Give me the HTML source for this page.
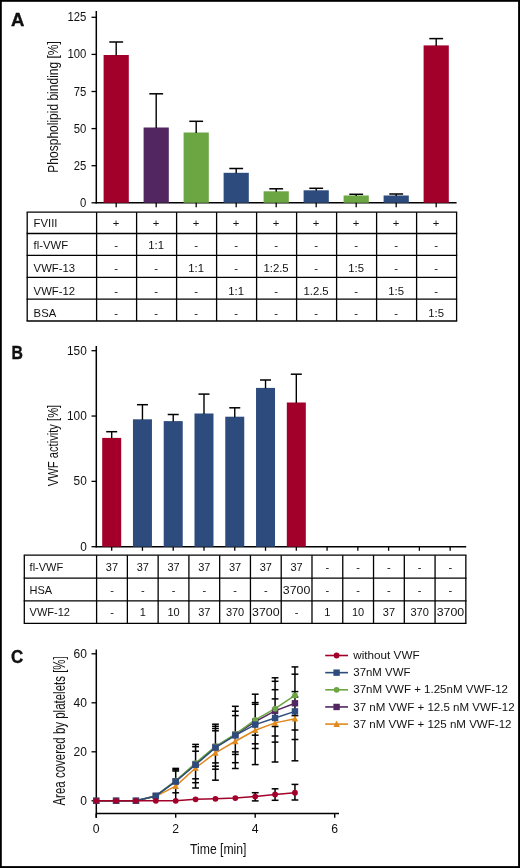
<!DOCTYPE html>
<html><head><meta charset="utf-8"><title>Figure</title>
<style>
html,body{margin:0;padding:0;background:#fff;}
body{width:520px;height:868px;overflow:hidden;}
svg{display:block;will-change:transform;}
svg text{font-family:"Liberation Sans",sans-serif;fill:#111;}
</style></head>
<body>
<svg width="520" height="868" viewBox="0 0 520 868">
<rect x="0" y="0" width="520" height="868" fill="#fff"/>
<text x="11.00" y="25.80" font-size="18.5" text-anchor="start" font-weight="bold" textLength="13.40" lengthAdjust="spacingAndGlyphs" stroke="#000" stroke-width="0.35">A</text>
<line x1="96.30" y1="11.00" x2="96.30" y2="203.50" stroke="#000" stroke-width="1.5" />
<line x1="91.50" y1="202.80" x2="96.30" y2="202.80" stroke="#000" stroke-width="1.3" />
<text x="86.30" y="206.80" font-size="12" text-anchor="end" font-weight="normal" textLength="6.30" lengthAdjust="spacingAndGlyphs" >0</text>
<line x1="91.50" y1="165.70" x2="96.30" y2="165.70" stroke="#000" stroke-width="1.3" />
<text x="86.30" y="169.70" font-size="12" text-anchor="end" font-weight="normal" textLength="12.60" lengthAdjust="spacingAndGlyphs" >25</text>
<line x1="91.50" y1="128.60" x2="96.30" y2="128.60" stroke="#000" stroke-width="1.3" />
<text x="86.30" y="132.60" font-size="12" text-anchor="end" font-weight="normal" textLength="12.60" lengthAdjust="spacingAndGlyphs" >50</text>
<line x1="91.50" y1="91.50" x2="96.30" y2="91.50" stroke="#000" stroke-width="1.3" />
<text x="86.30" y="95.50" font-size="12" text-anchor="end" font-weight="normal" textLength="12.60" lengthAdjust="spacingAndGlyphs" >75</text>
<line x1="91.50" y1="54.40" x2="96.30" y2="54.40" stroke="#000" stroke-width="1.3" />
<text x="86.30" y="58.40" font-size="12" text-anchor="end" font-weight="normal" textLength="18.90" lengthAdjust="spacingAndGlyphs" >100</text>
<line x1="91.50" y1="17.30" x2="96.30" y2="17.30" stroke="#000" stroke-width="1.3" />
<text x="86.30" y="21.30" font-size="12" text-anchor="end" font-weight="normal" textLength="18.90" lengthAdjust="spacingAndGlyphs" >125</text>
<line x1="95.60" y1="202.80" x2="456.60" y2="202.80" stroke="#000" stroke-width="1.5" />
<text x="57.90" y="106.90" font-size="15.5" text-anchor="middle" textLength="131.50" lengthAdjust="spacingAndGlyphs" transform="rotate(-90 57.90 106.90)">Phospholipid binding [%]</text>
<rect x="103.60" y="55.00" width="25.20" height="147.80" fill="#a2002b"/>
<line x1="116.20" y1="42.00" x2="116.20" y2="55.50" stroke="#000" stroke-width="1.4" />
<line x1="109.30" y1="42.00" x2="123.10" y2="42.00" stroke="#000" stroke-width="1.5" />
<line x1="116.20" y1="202.80" x2="116.20" y2="207.20" stroke="#000" stroke-width="1.3" />
<rect x="143.60" y="127.50" width="25.20" height="75.30" fill="#512661"/>
<line x1="156.20" y1="93.80" x2="156.20" y2="128.00" stroke="#000" stroke-width="1.4" />
<line x1="149.30" y1="93.80" x2="163.10" y2="93.80" stroke="#000" stroke-width="1.5" />
<line x1="156.20" y1="202.80" x2="156.20" y2="207.20" stroke="#000" stroke-width="1.3" />
<rect x="183.60" y="132.50" width="25.20" height="70.30" fill="#6ba642"/>
<line x1="196.20" y1="121.30" x2="196.20" y2="133.00" stroke="#000" stroke-width="1.4" />
<line x1="189.30" y1="121.30" x2="203.10" y2="121.30" stroke="#000" stroke-width="1.5" />
<line x1="196.20" y1="202.80" x2="196.20" y2="207.20" stroke="#000" stroke-width="1.3" />
<rect x="223.60" y="172.80" width="25.20" height="30.00" fill="#2d4c7d"/>
<line x1="236.20" y1="168.50" x2="236.20" y2="173.30" stroke="#000" stroke-width="1.4" />
<line x1="229.30" y1="168.50" x2="243.10" y2="168.50" stroke="#000" stroke-width="1.5" />
<line x1="236.20" y1="202.80" x2="236.20" y2="207.20" stroke="#000" stroke-width="1.3" />
<rect x="263.60" y="191.30" width="25.20" height="11.50" fill="#6ba642"/>
<line x1="276.20" y1="188.80" x2="276.20" y2="191.80" stroke="#000" stroke-width="1.4" />
<line x1="269.30" y1="188.80" x2="283.10" y2="188.80" stroke="#000" stroke-width="1.5" />
<line x1="276.20" y1="202.80" x2="276.20" y2="207.20" stroke="#000" stroke-width="1.3" />
<rect x="303.60" y="190.30" width="25.20" height="12.50" fill="#2d4c7d"/>
<line x1="316.20" y1="188.30" x2="316.20" y2="190.80" stroke="#000" stroke-width="1.4" />
<line x1="309.30" y1="188.30" x2="323.10" y2="188.30" stroke="#000" stroke-width="1.5" />
<line x1="316.20" y1="202.80" x2="316.20" y2="207.20" stroke="#000" stroke-width="1.3" />
<rect x="343.60" y="195.50" width="25.20" height="7.30" fill="#6ba642"/>
<line x1="356.20" y1="194.30" x2="356.20" y2="196.00" stroke="#000" stroke-width="1.4" />
<line x1="349.30" y1="194.30" x2="363.10" y2="194.30" stroke="#000" stroke-width="1.5" />
<line x1="356.20" y1="202.80" x2="356.20" y2="207.20" stroke="#000" stroke-width="1.3" />
<rect x="383.60" y="195.50" width="25.20" height="7.30" fill="#2d4c7d"/>
<line x1="396.20" y1="194.00" x2="396.20" y2="196.00" stroke="#000" stroke-width="1.4" />
<line x1="389.30" y1="194.00" x2="403.10" y2="194.00" stroke="#000" stroke-width="1.5" />
<line x1="396.20" y1="202.80" x2="396.20" y2="207.20" stroke="#000" stroke-width="1.3" />
<rect x="423.60" y="45.40" width="25.20" height="157.40" fill="#a2002b"/>
<line x1="436.20" y1="38.60" x2="436.20" y2="45.90" stroke="#000" stroke-width="1.4" />
<line x1="429.30" y1="38.60" x2="443.10" y2="38.60" stroke="#000" stroke-width="1.5" />
<line x1="436.20" y1="202.80" x2="436.20" y2="207.20" stroke="#000" stroke-width="1.3" />
<line x1="26.60" y1="212.20" x2="457.20" y2="212.20" stroke="#000" stroke-width="1.3" />
<line x1="26.60" y1="233.50" x2="457.20" y2="233.50" stroke="#000" stroke-width="1.3" />
<line x1="26.60" y1="255.40" x2="457.20" y2="255.40" stroke="#000" stroke-width="1.3" />
<line x1="26.60" y1="277.30" x2="457.20" y2="277.30" stroke="#000" stroke-width="1.3" />
<line x1="26.60" y1="299.20" x2="457.20" y2="299.20" stroke="#000" stroke-width="1.3" />
<line x1="26.60" y1="321.00" x2="457.20" y2="321.00" stroke="#000" stroke-width="1.3" />
<line x1="27.20" y1="212.20" x2="27.20" y2="321.00" stroke="#000" stroke-width="1.3" />
<line x1="96.60" y1="212.20" x2="96.60" y2="321.00" stroke="#000" stroke-width="1.3" />
<line x1="136.60" y1="212.20" x2="136.60" y2="321.00" stroke="#000" stroke-width="1.3" />
<line x1="176.60" y1="212.20" x2="176.60" y2="321.00" stroke="#000" stroke-width="1.3" />
<line x1="216.60" y1="212.20" x2="216.60" y2="321.00" stroke="#000" stroke-width="1.3" />
<line x1="256.60" y1="212.20" x2="256.60" y2="321.00" stroke="#000" stroke-width="1.3" />
<line x1="296.60" y1="212.20" x2="296.60" y2="321.00" stroke="#000" stroke-width="1.3" />
<line x1="336.60" y1="212.20" x2="336.60" y2="321.00" stroke="#000" stroke-width="1.3" />
<line x1="376.60" y1="212.20" x2="376.60" y2="321.00" stroke="#000" stroke-width="1.3" />
<line x1="416.60" y1="212.20" x2="416.60" y2="321.00" stroke="#000" stroke-width="1.3" />
<line x1="456.60" y1="212.20" x2="456.60" y2="321.00" stroke="#000" stroke-width="1.3" />
<text x="33.60" y="227.30" font-size="11.3" text-anchor="start" font-weight="normal" >FVIII</text>
<text x="116.10" y="227.30" font-size="11.3" text-anchor="middle" font-weight="normal" >+</text>
<text x="156.10" y="227.30" font-size="11.3" text-anchor="middle" font-weight="normal" >+</text>
<text x="196.10" y="227.30" font-size="11.3" text-anchor="middle" font-weight="normal" >+</text>
<text x="236.10" y="227.30" font-size="11.3" text-anchor="middle" font-weight="normal" >+</text>
<text x="276.10" y="227.30" font-size="11.3" text-anchor="middle" font-weight="normal" >+</text>
<text x="316.10" y="227.30" font-size="11.3" text-anchor="middle" font-weight="normal" >+</text>
<text x="356.10" y="227.30" font-size="11.3" text-anchor="middle" font-weight="normal" >+</text>
<text x="396.10" y="227.30" font-size="11.3" text-anchor="middle" font-weight="normal" >+</text>
<text x="436.10" y="227.30" font-size="11.3" text-anchor="middle" font-weight="normal" >+</text>
<text x="33.60" y="249.30" font-size="11.3" text-anchor="start" font-weight="normal" >fl-VWF</text>
<text x="116.10" y="249.30" font-size="11.3" text-anchor="middle" font-weight="normal" >-</text>
<text x="156.10" y="249.30" font-size="11.3" text-anchor="middle" font-weight="normal" >1:1</text>
<text x="196.10" y="249.30" font-size="11.3" text-anchor="middle" font-weight="normal" >-</text>
<text x="236.10" y="249.30" font-size="11.3" text-anchor="middle" font-weight="normal" >-</text>
<text x="276.10" y="249.30" font-size="11.3" text-anchor="middle" font-weight="normal" >-</text>
<text x="316.10" y="249.30" font-size="11.3" text-anchor="middle" font-weight="normal" >-</text>
<text x="356.10" y="249.30" font-size="11.3" text-anchor="middle" font-weight="normal" >-</text>
<text x="396.10" y="249.30" font-size="11.3" text-anchor="middle" font-weight="normal" >-</text>
<text x="436.10" y="249.30" font-size="11.3" text-anchor="middle" font-weight="normal" >-</text>
<text x="33.60" y="272.00" font-size="11.3" text-anchor="start" font-weight="normal" >VWF-13</text>
<text x="116.10" y="272.00" font-size="11.3" text-anchor="middle" font-weight="normal" >-</text>
<text x="156.10" y="272.00" font-size="11.3" text-anchor="middle" font-weight="normal" >-</text>
<text x="196.10" y="272.00" font-size="11.3" text-anchor="middle" font-weight="normal" >1:1</text>
<text x="236.10" y="272.00" font-size="11.3" text-anchor="middle" font-weight="normal" >-</text>
<text x="276.10" y="272.00" font-size="11.3" text-anchor="middle" font-weight="normal" >1:2.5</text>
<text x="316.10" y="272.00" font-size="11.3" text-anchor="middle" font-weight="normal" >-</text>
<text x="356.10" y="272.00" font-size="11.3" text-anchor="middle" font-weight="normal" >1:5</text>
<text x="396.10" y="272.00" font-size="11.3" text-anchor="middle" font-weight="normal" >-</text>
<text x="436.10" y="272.00" font-size="11.3" text-anchor="middle" font-weight="normal" >-</text>
<text x="33.60" y="294.80" font-size="11.3" text-anchor="start" font-weight="normal" >VWF-12</text>
<text x="116.10" y="294.80" font-size="11.3" text-anchor="middle" font-weight="normal" >-</text>
<text x="156.10" y="294.80" font-size="11.3" text-anchor="middle" font-weight="normal" >-</text>
<text x="196.10" y="294.80" font-size="11.3" text-anchor="middle" font-weight="normal" >-</text>
<text x="236.10" y="294.80" font-size="11.3" text-anchor="middle" font-weight="normal" >1:1</text>
<text x="276.10" y="294.80" font-size="11.3" text-anchor="middle" font-weight="normal" >-</text>
<text x="316.10" y="294.80" font-size="11.3" text-anchor="middle" font-weight="normal" >1.2.5</text>
<text x="356.10" y="294.80" font-size="11.3" text-anchor="middle" font-weight="normal" >-</text>
<text x="396.10" y="294.80" font-size="11.3" text-anchor="middle" font-weight="normal" >1:5</text>
<text x="436.10" y="294.80" font-size="11.3" text-anchor="middle" font-weight="normal" >-</text>
<text x="33.60" y="317.40" font-size="11.3" text-anchor="start" font-weight="normal" >BSA</text>
<text x="116.10" y="317.40" font-size="11.3" text-anchor="middle" font-weight="normal" >-</text>
<text x="156.10" y="317.40" font-size="11.3" text-anchor="middle" font-weight="normal" >-</text>
<text x="196.10" y="317.40" font-size="11.3" text-anchor="middle" font-weight="normal" >-</text>
<text x="236.10" y="317.40" font-size="11.3" text-anchor="middle" font-weight="normal" >-</text>
<text x="276.10" y="317.40" font-size="11.3" text-anchor="middle" font-weight="normal" >-</text>
<text x="316.10" y="317.40" font-size="11.3" text-anchor="middle" font-weight="normal" >-</text>
<text x="356.10" y="317.40" font-size="11.3" text-anchor="middle" font-weight="normal" >-</text>
<text x="396.10" y="317.40" font-size="11.3" text-anchor="middle" font-weight="normal" >-</text>
<text x="436.10" y="317.40" font-size="11.3" text-anchor="middle" font-weight="normal" >1:5</text>
<text x="11.40" y="359.40" font-size="18" text-anchor="start" font-weight="bold" textLength="11.40" lengthAdjust="spacingAndGlyphs" stroke="#000" stroke-width="0.35">B</text>
<line x1="96.30" y1="346.00" x2="96.30" y2="547.40" stroke="#000" stroke-width="1.5" />
<line x1="91.50" y1="546.70" x2="96.30" y2="546.70" stroke="#000" stroke-width="1.3" />
<text x="86.80" y="550.80" font-size="12.3" text-anchor="end" font-weight="normal" textLength="6.60" lengthAdjust="spacingAndGlyphs" >0</text>
<line x1="91.50" y1="481.37" x2="96.30" y2="481.37" stroke="#000" stroke-width="1.3" />
<text x="86.80" y="485.47" font-size="12.3" text-anchor="end" font-weight="normal" textLength="13.20" lengthAdjust="spacingAndGlyphs" >50</text>
<line x1="91.50" y1="416.04" x2="96.30" y2="416.04" stroke="#000" stroke-width="1.3" />
<text x="86.80" y="420.14" font-size="12.3" text-anchor="end" font-weight="normal" textLength="19.80" lengthAdjust="spacingAndGlyphs" >100</text>
<line x1="91.50" y1="350.71" x2="96.30" y2="350.71" stroke="#000" stroke-width="1.3" />
<text x="86.80" y="354.81" font-size="12.3" text-anchor="end" font-weight="normal" textLength="19.80" lengthAdjust="spacingAndGlyphs" >150</text>
<line x1="95.60" y1="546.70" x2="466.20" y2="546.70" stroke="#000" stroke-width="1.5" />
<text x="58.20" y="445.50" font-size="15.5" text-anchor="middle" textLength="81.50" lengthAdjust="spacingAndGlyphs" transform="rotate(-90 58.20 445.50)">VWF activity [%]</text>
<line x1="111.69" y1="546.70" x2="111.69" y2="550.80" stroke="#000" stroke-width="1.3" />
<line x1="142.45" y1="546.70" x2="142.45" y2="550.80" stroke="#000" stroke-width="1.3" />
<line x1="173.22" y1="546.70" x2="173.22" y2="550.80" stroke="#000" stroke-width="1.3" />
<line x1="203.99" y1="546.70" x2="203.99" y2="550.80" stroke="#000" stroke-width="1.3" />
<line x1="234.76" y1="546.70" x2="234.76" y2="550.80" stroke="#000" stroke-width="1.3" />
<line x1="265.53" y1="546.70" x2="265.53" y2="550.80" stroke="#000" stroke-width="1.3" />
<line x1="296.31" y1="546.70" x2="296.31" y2="550.80" stroke="#000" stroke-width="1.3" />
<line x1="327.07" y1="546.70" x2="327.07" y2="550.80" stroke="#000" stroke-width="1.3" />
<line x1="357.84" y1="546.70" x2="357.84" y2="550.80" stroke="#000" stroke-width="1.3" />
<line x1="388.61" y1="546.70" x2="388.61" y2="550.80" stroke="#000" stroke-width="1.3" />
<line x1="419.38" y1="546.70" x2="419.38" y2="550.80" stroke="#000" stroke-width="1.3" />
<line x1="450.16" y1="546.70" x2="450.16" y2="550.80" stroke="#000" stroke-width="1.3" />
<rect x="102.19" y="437.90" width="19.00" height="108.80" fill="#a2002b"/>
<line x1="111.69" y1="431.70" x2="111.69" y2="438.40" stroke="#000" stroke-width="1.4" />
<line x1="106.19" y1="431.70" x2="117.19" y2="431.70" stroke="#000" stroke-width="1.5" />
<rect x="132.95" y="419.30" width="19.00" height="127.40" fill="#2d4c7d"/>
<line x1="142.45" y1="404.70" x2="142.45" y2="419.80" stroke="#000" stroke-width="1.4" />
<line x1="136.95" y1="404.70" x2="147.95" y2="404.70" stroke="#000" stroke-width="1.5" />
<rect x="163.72" y="421.10" width="19.00" height="125.60" fill="#2d4c7d"/>
<line x1="173.22" y1="414.50" x2="173.22" y2="421.60" stroke="#000" stroke-width="1.4" />
<line x1="167.72" y1="414.50" x2="178.72" y2="414.50" stroke="#000" stroke-width="1.5" />
<rect x="194.49" y="413.50" width="19.00" height="133.20" fill="#2d4c7d"/>
<line x1="203.99" y1="394.10" x2="203.99" y2="414.00" stroke="#000" stroke-width="1.4" />
<line x1="198.49" y1="394.10" x2="209.49" y2="394.10" stroke="#000" stroke-width="1.5" />
<rect x="225.26" y="416.70" width="19.00" height="130.00" fill="#2d4c7d"/>
<line x1="234.76" y1="407.80" x2="234.76" y2="417.20" stroke="#000" stroke-width="1.4" />
<line x1="229.26" y1="407.80" x2="240.26" y2="407.80" stroke="#000" stroke-width="1.5" />
<rect x="256.03" y="387.90" width="19.00" height="158.80" fill="#2d4c7d"/>
<line x1="265.53" y1="380.00" x2="265.53" y2="388.40" stroke="#000" stroke-width="1.4" />
<line x1="260.03" y1="380.00" x2="271.03" y2="380.00" stroke="#000" stroke-width="1.5" />
<rect x="286.81" y="402.50" width="19.00" height="144.20" fill="#a2002b"/>
<line x1="296.31" y1="374.20" x2="296.31" y2="403.00" stroke="#000" stroke-width="1.4" />
<line x1="290.81" y1="374.20" x2="301.81" y2="374.20" stroke="#000" stroke-width="1.5" />
<line x1="23.70" y1="555.20" x2="466.50" y2="555.20" stroke="#000" stroke-width="1.3" />
<line x1="23.70" y1="578.20" x2="466.50" y2="578.20" stroke="#000" stroke-width="1.3" />
<line x1="23.70" y1="600.80" x2="466.50" y2="600.80" stroke="#000" stroke-width="1.3" />
<line x1="23.70" y1="623.30" x2="466.50" y2="623.30" stroke="#000" stroke-width="1.3" />
<line x1="24.30" y1="555.20" x2="24.30" y2="623.30" stroke="#000" stroke-width="1.3" />
<line x1="96.60" y1="555.20" x2="96.60" y2="623.30" stroke="#000" stroke-width="1.3" />
<line x1="127.37" y1="555.20" x2="127.37" y2="623.30" stroke="#000" stroke-width="1.3" />
<line x1="158.14" y1="555.20" x2="158.14" y2="623.30" stroke="#000" stroke-width="1.3" />
<line x1="188.91" y1="555.20" x2="188.91" y2="623.30" stroke="#000" stroke-width="1.3" />
<line x1="219.68" y1="555.20" x2="219.68" y2="623.30" stroke="#000" stroke-width="1.3" />
<line x1="250.45" y1="555.20" x2="250.45" y2="623.30" stroke="#000" stroke-width="1.3" />
<line x1="281.22" y1="555.20" x2="281.22" y2="623.30" stroke="#000" stroke-width="1.3" />
<line x1="311.99" y1="555.20" x2="311.99" y2="623.30" stroke="#000" stroke-width="1.3" />
<line x1="342.76" y1="555.20" x2="342.76" y2="623.30" stroke="#000" stroke-width="1.3" />
<line x1="373.53" y1="555.20" x2="373.53" y2="623.30" stroke="#000" stroke-width="1.3" />
<line x1="404.30" y1="555.20" x2="404.30" y2="623.30" stroke="#000" stroke-width="1.3" />
<line x1="435.07" y1="555.20" x2="435.07" y2="623.30" stroke="#000" stroke-width="1.3" />
<line x1="465.84" y1="555.20" x2="465.84" y2="623.30" stroke="#000" stroke-width="1.3" />
<text x="29.60" y="570.70" font-size="11" text-anchor="start" font-weight="normal" >fl-VWF</text>
<text x="111.98" y="570.70" font-size="11" text-anchor="middle" font-weight="normal" >37</text>
<text x="142.75" y="570.70" font-size="11" text-anchor="middle" font-weight="normal" >37</text>
<text x="173.52" y="570.70" font-size="11" text-anchor="middle" font-weight="normal" >37</text>
<text x="204.29" y="570.70" font-size="11" text-anchor="middle" font-weight="normal" >37</text>
<text x="235.06" y="570.70" font-size="11" text-anchor="middle" font-weight="normal" >37</text>
<text x="265.83" y="570.70" font-size="11" text-anchor="middle" font-weight="normal" >37</text>
<text x="296.61" y="570.70" font-size="11" text-anchor="middle" font-weight="normal" >37</text>
<text x="327.38" y="570.70" font-size="11" text-anchor="middle" font-weight="normal" >-</text>
<text x="358.14" y="570.70" font-size="11" text-anchor="middle" font-weight="normal" >-</text>
<text x="388.91" y="570.70" font-size="11" text-anchor="middle" font-weight="normal" >-</text>
<text x="419.68" y="570.70" font-size="11" text-anchor="middle" font-weight="normal" >-</text>
<text x="450.46" y="570.70" font-size="11" text-anchor="middle" font-weight="normal" >-</text>
<text x="29.60" y="593.70" font-size="11" text-anchor="start" font-weight="normal" >HSA</text>
<text x="111.98" y="593.70" font-size="11" text-anchor="middle" font-weight="normal" >-</text>
<text x="142.75" y="593.70" font-size="11" text-anchor="middle" font-weight="normal" >-</text>
<text x="173.52" y="593.70" font-size="11" text-anchor="middle" font-weight="normal" >-</text>
<text x="204.29" y="593.70" font-size="11" text-anchor="middle" font-weight="normal" >-</text>
<text x="235.06" y="593.70" font-size="11" text-anchor="middle" font-weight="normal" >-</text>
<text x="265.83" y="593.70" font-size="11" text-anchor="middle" font-weight="normal" >-</text>
<text x="296.61" y="593.70" font-size="11" text-anchor="middle" font-weight="normal" textLength="27.50" lengthAdjust="spacingAndGlyphs" >3700</text>
<text x="327.38" y="593.70" font-size="11" text-anchor="middle" font-weight="normal" >-</text>
<text x="358.14" y="593.70" font-size="11" text-anchor="middle" font-weight="normal" >-</text>
<text x="388.91" y="593.70" font-size="11" text-anchor="middle" font-weight="normal" >-</text>
<text x="419.68" y="593.70" font-size="11" text-anchor="middle" font-weight="normal" >-</text>
<text x="450.46" y="593.70" font-size="11" text-anchor="middle" font-weight="normal" >-</text>
<text x="29.60" y="616.30" font-size="11" text-anchor="start" font-weight="normal" >VWF-12</text>
<text x="111.98" y="616.30" font-size="11" text-anchor="middle" font-weight="normal" >-</text>
<text x="142.75" y="616.30" font-size="11" text-anchor="middle" font-weight="normal" >1</text>
<text x="173.52" y="616.30" font-size="11" text-anchor="middle" font-weight="normal" >10</text>
<text x="204.29" y="616.30" font-size="11" text-anchor="middle" font-weight="normal" >37</text>
<text x="235.06" y="616.30" font-size="11" text-anchor="middle" font-weight="normal" >370</text>
<text x="265.83" y="616.30" font-size="11" text-anchor="middle" font-weight="normal" textLength="27.50" lengthAdjust="spacingAndGlyphs" >3700</text>
<text x="296.61" y="616.30" font-size="11" text-anchor="middle" font-weight="normal" >-</text>
<text x="327.38" y="616.30" font-size="11" text-anchor="middle" font-weight="normal" >1</text>
<text x="358.14" y="616.30" font-size="11" text-anchor="middle" font-weight="normal" >10</text>
<text x="388.91" y="616.30" font-size="11" text-anchor="middle" font-weight="normal" >37</text>
<text x="419.68" y="616.30" font-size="11" text-anchor="middle" font-weight="normal" >370</text>
<text x="450.46" y="616.30" font-size="11" text-anchor="middle" font-weight="normal" textLength="27.50" lengthAdjust="spacingAndGlyphs" >3700</text>
<text x="10.90" y="662.50" font-size="19" text-anchor="start" font-weight="bold" textLength="12.20" lengthAdjust="spacingAndGlyphs" stroke="#000" stroke-width="0.35">C</text>
<line x1="96.30" y1="649.50" x2="96.30" y2="817.80" stroke="#000" stroke-width="1.5" />
<line x1="91.50" y1="800.80" x2="96.30" y2="800.80" stroke="#000" stroke-width="1.3" />
<text x="87.00" y="804.80" font-size="12.7" text-anchor="end" font-weight="normal" textLength="6.70" lengthAdjust="spacingAndGlyphs" >0</text>
<line x1="91.50" y1="751.80" x2="96.30" y2="751.80" stroke="#000" stroke-width="1.3" />
<text x="87.00" y="755.80" font-size="12.7" text-anchor="end" font-weight="normal" textLength="13.40" lengthAdjust="spacingAndGlyphs" >20</text>
<line x1="91.50" y1="702.80" x2="96.30" y2="702.80" stroke="#000" stroke-width="1.3" />
<text x="87.00" y="706.80" font-size="12.7" text-anchor="end" font-weight="normal" textLength="13.40" lengthAdjust="spacingAndGlyphs" >40</text>
<line x1="91.50" y1="653.80" x2="96.30" y2="653.80" stroke="#000" stroke-width="1.3" />
<text x="87.00" y="657.80" font-size="12.7" text-anchor="end" font-weight="normal" textLength="13.40" lengthAdjust="spacingAndGlyphs" >60</text>
<line x1="96.30" y1="813.50" x2="339.00" y2="813.50" stroke="#000" stroke-width="1.5" />
<line x1="96.20" y1="813.50" x2="96.20" y2="817.80" stroke="#000" stroke-width="1.4" />
<text x="96.20" y="833.40" font-size="12.8" text-anchor="middle" font-weight="normal" textLength="6.80" lengthAdjust="spacingAndGlyphs" >0</text>
<line x1="175.70" y1="813.50" x2="175.70" y2="817.80" stroke="#000" stroke-width="1.4" />
<text x="175.70" y="833.40" font-size="12.8" text-anchor="middle" font-weight="normal" textLength="6.80" lengthAdjust="spacingAndGlyphs" >2</text>
<line x1="255.20" y1="813.50" x2="255.20" y2="817.80" stroke="#000" stroke-width="1.4" />
<text x="255.20" y="833.40" font-size="12.8" text-anchor="middle" font-weight="normal" textLength="6.80" lengthAdjust="spacingAndGlyphs" >4</text>
<line x1="334.70" y1="813.50" x2="334.70" y2="817.80" stroke="#000" stroke-width="1.4" />
<text x="334.70" y="833.40" font-size="12.8" text-anchor="middle" font-weight="normal" textLength="6.80" lengthAdjust="spacingAndGlyphs" >6</text>
<text x="190.00" y="854.00" font-size="15" text-anchor="start" font-weight="normal" textLength="56.50" lengthAdjust="spacingAndGlyphs" >Time [min]</text>
<text x="65.50" y="730.90" font-size="16.5" text-anchor="middle" textLength="149.30" lengthAdjust="spacingAndGlyphs" transform="rotate(-90 65.50 730.90)">Area covered by platelets [%]</text>
<line x1="175.70" y1="768.40" x2="175.70" y2="799.00" stroke="#000" stroke-width="1.5" />
<line x1="172.30" y1="768.40" x2="179.10" y2="768.40" stroke="#000" stroke-width="1.5" />
<line x1="172.30" y1="769.80" x2="179.10" y2="769.80" stroke="#000" stroke-width="1.5" />
<line x1="172.30" y1="771.00" x2="179.10" y2="771.00" stroke="#000" stroke-width="1.5" />
<line x1="172.30" y1="792.80" x2="179.10" y2="792.80" stroke="#000" stroke-width="1.5" />
<line x1="195.57" y1="744.40" x2="195.57" y2="788.00" stroke="#000" stroke-width="1.5" />
<line x1="192.17" y1="744.40" x2="198.97" y2="744.40" stroke="#000" stroke-width="1.5" />
<line x1="192.17" y1="746.70" x2="198.97" y2="746.70" stroke="#000" stroke-width="1.5" />
<line x1="192.17" y1="751.20" x2="198.97" y2="751.20" stroke="#000" stroke-width="1.5" />
<line x1="192.17" y1="778.80" x2="198.97" y2="778.80" stroke="#000" stroke-width="1.5" />
<line x1="192.17" y1="782.70" x2="198.97" y2="782.70" stroke="#000" stroke-width="1.5" />
<line x1="192.17" y1="788.00" x2="198.97" y2="788.00" stroke="#000" stroke-width="1.5" />
<line x1="215.45" y1="724.20" x2="215.45" y2="780.20" stroke="#000" stroke-width="1.5" />
<line x1="212.05" y1="724.20" x2="218.85" y2="724.20" stroke="#000" stroke-width="1.5" />
<line x1="212.05" y1="726.30" x2="218.85" y2="726.30" stroke="#000" stroke-width="1.5" />
<line x1="212.05" y1="728.50" x2="218.85" y2="728.50" stroke="#000" stroke-width="1.5" />
<line x1="212.05" y1="730.80" x2="218.85" y2="730.80" stroke="#000" stroke-width="1.5" />
<line x1="212.05" y1="762.90" x2="218.85" y2="762.90" stroke="#000" stroke-width="1.5" />
<line x1="212.05" y1="766.20" x2="218.85" y2="766.20" stroke="#000" stroke-width="1.5" />
<line x1="212.05" y1="769.20" x2="218.85" y2="769.20" stroke="#000" stroke-width="1.5" />
<line x1="212.05" y1="780.20" x2="218.85" y2="780.20" stroke="#000" stroke-width="1.5" />
<line x1="235.32" y1="706.30" x2="235.32" y2="768.50" stroke="#000" stroke-width="1.5" />
<line x1="231.92" y1="706.30" x2="238.72" y2="706.30" stroke="#000" stroke-width="1.5" />
<line x1="231.92" y1="711.20" x2="238.72" y2="711.20" stroke="#000" stroke-width="1.5" />
<line x1="231.92" y1="715.60" x2="238.72" y2="715.60" stroke="#000" stroke-width="1.5" />
<line x1="231.92" y1="751.90" x2="238.72" y2="751.90" stroke="#000" stroke-width="1.5" />
<line x1="231.92" y1="754.40" x2="238.72" y2="754.40" stroke="#000" stroke-width="1.5" />
<line x1="231.92" y1="762.70" x2="238.72" y2="762.70" stroke="#000" stroke-width="1.5" />
<line x1="231.92" y1="768.50" x2="238.72" y2="768.50" stroke="#000" stroke-width="1.5" />
<line x1="255.20" y1="694.20" x2="255.20" y2="764.60" stroke="#000" stroke-width="1.5" />
<line x1="251.80" y1="694.20" x2="258.60" y2="694.20" stroke="#000" stroke-width="1.5" />
<line x1="251.80" y1="702.60" x2="258.60" y2="702.60" stroke="#000" stroke-width="1.5" />
<line x1="251.80" y1="704.30" x2="258.60" y2="704.30" stroke="#000" stroke-width="1.5" />
<line x1="251.80" y1="735.20" x2="258.60" y2="735.20" stroke="#000" stroke-width="1.5" />
<line x1="251.80" y1="743.80" x2="258.60" y2="743.80" stroke="#000" stroke-width="1.5" />
<line x1="251.80" y1="748.50" x2="258.60" y2="748.50" stroke="#000" stroke-width="1.5" />
<line x1="251.80" y1="764.60" x2="258.60" y2="764.60" stroke="#000" stroke-width="1.5" />
<line x1="275.07" y1="677.80" x2="275.07" y2="762.00" stroke="#000" stroke-width="1.5" />
<line x1="271.68" y1="677.80" x2="278.47" y2="677.80" stroke="#000" stroke-width="1.5" />
<line x1="271.68" y1="681.30" x2="278.47" y2="681.30" stroke="#000" stroke-width="1.5" />
<line x1="271.68" y1="689.70" x2="278.47" y2="689.70" stroke="#000" stroke-width="1.5" />
<line x1="271.68" y1="698.90" x2="278.47" y2="698.90" stroke="#000" stroke-width="1.5" />
<line x1="271.68" y1="726.50" x2="278.47" y2="726.50" stroke="#000" stroke-width="1.5" />
<line x1="271.68" y1="736.00" x2="278.47" y2="736.00" stroke="#000" stroke-width="1.5" />
<line x1="271.68" y1="742.10" x2="278.47" y2="742.10" stroke="#000" stroke-width="1.5" />
<line x1="271.68" y1="762.00" x2="278.47" y2="762.00" stroke="#000" stroke-width="1.5" />
<line x1="294.95" y1="666.90" x2="294.95" y2="760.80" stroke="#000" stroke-width="1.5" />
<line x1="291.55" y1="666.90" x2="298.35" y2="666.90" stroke="#000" stroke-width="1.5" />
<line x1="291.55" y1="674.20" x2="298.35" y2="674.20" stroke="#000" stroke-width="1.5" />
<line x1="291.55" y1="691.60" x2="298.35" y2="691.60" stroke="#000" stroke-width="1.5" />
<line x1="291.55" y1="697.00" x2="298.35" y2="697.00" stroke="#000" stroke-width="1.5" />
<line x1="291.55" y1="715.60" x2="298.35" y2="715.60" stroke="#000" stroke-width="1.5" />
<line x1="291.55" y1="730.00" x2="298.35" y2="730.00" stroke="#000" stroke-width="1.5" />
<line x1="291.55" y1="739.50" x2="298.35" y2="739.50" stroke="#000" stroke-width="1.5" />
<line x1="291.55" y1="760.80" x2="298.35" y2="760.80" stroke="#000" stroke-width="1.5" />
<polyline points="96.20,800.80 116.08,800.80 135.95,800.80 155.82,796.39 175.70,786.10 195.57,767.97 215.45,752.78 235.32,741.26 255.20,730.24 275.07,722.89 294.95,718.72" fill="none" stroke="#e0891d" stroke-width="1.5" stroke-linejoin="round"/>
<polyline points="96.20,800.80 116.08,800.80 135.95,800.80 155.82,795.90 175.70,781.20 195.57,764.05 215.45,746.90 235.32,734.65 255.20,721.66 275.07,710.88 294.95,703.29" fill="none" stroke="#512661" stroke-width="1.5" stroke-linejoin="round"/>
<polyline points="96.20,800.80 116.08,800.80 135.95,800.80 155.82,795.90 175.70,780.71 195.57,763.07 215.45,746.41 235.32,734.16 255.20,719.95 275.07,708.68 294.95,695.45" fill="none" stroke="#6ba642" stroke-width="1.5" stroke-linejoin="round"/>
<polyline points="96.20,800.80 116.08,800.80 135.95,800.80 155.82,795.90 175.70,781.44 195.57,764.78 215.45,747.63 235.32,735.38 255.20,724.60 275.07,717.99 294.95,711.38" fill="none" stroke="#2d4c7d" stroke-width="1.5" stroke-linejoin="round"/>
<polygon points="96.20,797.28 99.40,803.68 93.00,803.68" fill="#e0891d"/>
<polygon points="116.08,797.28 119.28,803.68 112.88,803.68" fill="#e0891d"/>
<polygon points="135.95,797.28 139.15,803.68 132.75,803.68" fill="#e0891d"/>
<polygon points="155.82,792.87 159.02,799.27 152.62,799.27" fill="#e0891d"/>
<polygon points="175.70,782.58 178.90,788.98 172.50,788.98" fill="#e0891d"/>
<polygon points="195.57,764.45 198.77,770.85 192.38,770.85" fill="#e0891d"/>
<polygon points="215.45,749.26 218.65,755.66 212.25,755.66" fill="#e0891d"/>
<polygon points="235.32,737.75 238.52,744.14 232.12,744.14" fill="#e0891d"/>
<polygon points="255.20,726.72 258.40,733.12 252.00,733.12" fill="#e0891d"/>
<polygon points="275.07,719.37 278.27,725.77 271.88,725.77" fill="#e0891d"/>
<polygon points="294.95,715.20 298.15,721.60 291.75,721.60" fill="#e0891d"/>
<rect x="93.00" y="797.60" width="6.40" height="6.40" fill="#512661"/>
<rect x="112.88" y="797.60" width="6.40" height="6.40" fill="#512661"/>
<rect x="132.75" y="797.60" width="6.40" height="6.40" fill="#512661"/>
<rect x="152.62" y="792.70" width="6.40" height="6.40" fill="#512661"/>
<rect x="172.50" y="778.00" width="6.40" height="6.40" fill="#512661"/>
<rect x="192.38" y="760.85" width="6.40" height="6.40" fill="#512661"/>
<rect x="212.25" y="743.70" width="6.40" height="6.40" fill="#512661"/>
<rect x="232.12" y="731.45" width="6.40" height="6.40" fill="#512661"/>
<rect x="252.00" y="718.46" width="6.40" height="6.40" fill="#512661"/>
<rect x="271.88" y="707.68" width="6.40" height="6.40" fill="#512661"/>
<rect x="291.75" y="700.09" width="6.40" height="6.40" fill="#512661"/>
<circle cx="96.20" cy="800.80" r="2.88" fill="#6ba642"/>
<circle cx="116.08" cy="800.80" r="2.88" fill="#6ba642"/>
<circle cx="135.95" cy="800.80" r="2.88" fill="#6ba642"/>
<circle cx="155.82" cy="795.90" r="2.88" fill="#6ba642"/>
<circle cx="175.70" cy="780.71" r="2.88" fill="#6ba642"/>
<circle cx="195.57" cy="763.07" r="2.88" fill="#6ba642"/>
<circle cx="215.45" cy="746.41" r="2.88" fill="#6ba642"/>
<circle cx="235.32" cy="734.16" r="2.88" fill="#6ba642"/>
<circle cx="255.20" cy="719.95" r="2.88" fill="#6ba642"/>
<circle cx="275.07" cy="708.68" r="2.88" fill="#6ba642"/>
<circle cx="294.95" cy="695.45" r="2.88" fill="#6ba642"/>
<rect x="93.00" y="797.60" width="6.40" height="6.40" fill="#2d4c7d"/>
<rect x="112.88" y="797.60" width="6.40" height="6.40" fill="#2d4c7d"/>
<rect x="132.75" y="797.60" width="6.40" height="6.40" fill="#2d4c7d"/>
<rect x="152.62" y="792.70" width="6.40" height="6.40" fill="#2d4c7d"/>
<rect x="172.50" y="778.24" width="6.40" height="6.40" fill="#2d4c7d"/>
<rect x="192.38" y="761.58" width="6.40" height="6.40" fill="#2d4c7d"/>
<rect x="212.25" y="744.43" width="6.40" height="6.40" fill="#2d4c7d"/>
<rect x="232.12" y="732.18" width="6.40" height="6.40" fill="#2d4c7d"/>
<rect x="252.00" y="721.40" width="6.40" height="6.40" fill="#2d4c7d"/>
<rect x="271.88" y="714.79" width="6.40" height="6.40" fill="#2d4c7d"/>
<rect x="291.75" y="708.17" width="6.40" height="6.40" fill="#2d4c7d"/>
<line x1="255.20" y1="792.70" x2="255.20" y2="800.90" stroke="#000" stroke-width="1.5" />
<line x1="251.80" y1="792.70" x2="258.60" y2="792.70" stroke="#000" stroke-width="1.5" />
<line x1="251.80" y1="800.90" x2="258.60" y2="800.90" stroke="#000" stroke-width="1.5" />
<line x1="275.07" y1="788.80" x2="275.07" y2="800.30" stroke="#000" stroke-width="1.5" />
<line x1="271.68" y1="788.80" x2="278.47" y2="788.80" stroke="#000" stroke-width="1.5" />
<line x1="271.68" y1="800.30" x2="278.47" y2="800.30" stroke="#000" stroke-width="1.5" />
<line x1="294.95" y1="784.40" x2="294.95" y2="800.00" stroke="#000" stroke-width="1.5" />
<line x1="291.55" y1="784.40" x2="298.35" y2="784.40" stroke="#000" stroke-width="1.5" />
<line x1="291.55" y1="800.00" x2="298.35" y2="800.00" stroke="#000" stroke-width="1.5" />
<polyline points="96.20,800.80 116.08,800.80 135.95,800.80 155.82,800.80 175.70,800.80 195.57,799.33 215.45,798.84 235.32,798.10 255.20,796.51 275.07,794.43 294.95,792.71" fill="none" stroke="#a2002b" stroke-width="1.5" stroke-linejoin="round"/>
<circle cx="96.20" cy="800.80" r="2.88" fill="#a2002b"/>
<circle cx="116.08" cy="800.80" r="2.88" fill="#a2002b"/>
<circle cx="135.95" cy="800.80" r="2.88" fill="#a2002b"/>
<circle cx="155.82" cy="800.80" r="2.88" fill="#a2002b"/>
<circle cx="175.70" cy="800.80" r="2.88" fill="#a2002b"/>
<circle cx="195.57" cy="799.33" r="2.88" fill="#a2002b"/>
<circle cx="215.45" cy="798.84" r="2.88" fill="#a2002b"/>
<circle cx="235.32" cy="798.10" r="2.88" fill="#a2002b"/>
<circle cx="255.20" cy="796.51" r="2.88" fill="#a2002b"/>
<circle cx="275.07" cy="794.43" r="2.88" fill="#a2002b"/>
<circle cx="294.95" cy="792.71" r="2.88" fill="#a2002b"/>
<line x1="325.20" y1="655.50" x2="348.00" y2="655.50" stroke="#a2002b" stroke-width="1.6" />
<circle cx="336.60" cy="655.50" r="2.88" fill="#a2002b"/>
<text x="353.30" y="658.50" font-size="11.8" text-anchor="start" font-weight="normal" textLength="66.30" lengthAdjust="spacingAndGlyphs" >without VWF</text>
<line x1="325.20" y1="672.65" x2="348.00" y2="672.65" stroke="#2d4c7d" stroke-width="1.6" />
<rect x="333.40" y="669.45" width="6.40" height="6.40" fill="#2d4c7d"/>
<text x="353.30" y="675.87" font-size="11.8" text-anchor="start" font-weight="normal" textLength="57.10" lengthAdjust="spacingAndGlyphs" >37nM VWF</text>
<line x1="325.20" y1="689.80" x2="348.00" y2="689.80" stroke="#6ba642" stroke-width="1.6" />
<circle cx="336.60" cy="689.80" r="2.88" fill="#6ba642"/>
<text x="353.30" y="693.24" font-size="11.8" text-anchor="start" font-weight="normal" textLength="154.70" lengthAdjust="spacingAndGlyphs" >37nM VWF + 1.25nM VWF-12</text>
<line x1="325.20" y1="706.95" x2="348.00" y2="706.95" stroke="#512661" stroke-width="1.6" />
<rect x="333.40" y="703.75" width="6.40" height="6.40" fill="#512661"/>
<text x="353.30" y="710.61" font-size="11.8" text-anchor="start" font-weight="normal" textLength="161.40" lengthAdjust="spacingAndGlyphs" >37 nM VWF + 12.5 nM VWF-12</text>
<line x1="325.20" y1="724.10" x2="348.00" y2="724.10" stroke="#e0891d" stroke-width="1.6" />
<polygon points="336.60,720.58 339.80,726.98 333.40,726.98" fill="#e0891d"/>
<text x="353.30" y="727.98" font-size="11.8" text-anchor="start" font-weight="normal" textLength="158.20" lengthAdjust="spacingAndGlyphs" >37 nM VWF + 125 nM VWF-12</text>
<rect x="0" y="0" width="520" height="1.8" fill="#000"/>
<rect x="0" y="0" width="1.8" height="868" fill="#000"/>
<rect x="518.1" y="0" width="1.9" height="868" fill="#000"/>
<rect x="0" y="866.1" width="520" height="1.9" fill="#000"/>
</svg>
</body></html>
